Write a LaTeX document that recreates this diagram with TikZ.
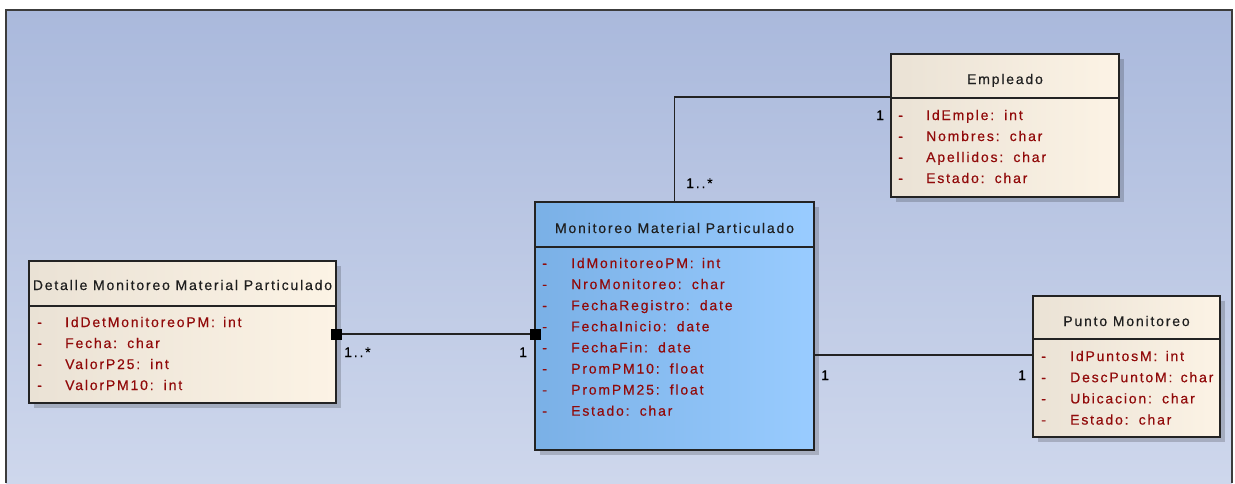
\documentclass[tikz,border=0pt]{standalone}
\usepackage{fontspec}
\setmainfont{Liberation Sans}
\newfontfamily\umlfont[LetterSpace=13,FakeBold=0.4]{Liberation Sans}
\usetikzlibrary{shadows,calc}

\definecolor{bgtop}{RGB}{170,185,220}
\definecolor{bgbot}{RGB}{206,215,236}
\definecolor{beigeL}{RGB}{234,226,213}
\definecolor{beigeR}{RGB}{252,243,229}
\definecolor{blueL}{RGB}{122,176,230}
\definecolor{blueR}{RGB}{153,204,255}
\definecolor{attrred}{RGB}{145,10,10}
\definecolor{edgec}{RGB}{35,35,35}
\definecolor{framec}{RGB}{60,60,60}

% attribute text: name, colon, wider gap, type
\newcommand{\umlattr}[2]{#1:\hspace{2.5pt} #2}

\begin{document}
\begin{tikzpicture}[x=1pt,y=-1pt,
  umlbox/.style={draw=edgec, line width=1.3pt, anchor=north west,
    inner sep=0pt, outer sep=0pt, left color=beigeL, right color=beigeR,
    drop shadow={shadow xshift=5pt, shadow yshift=-5pt, fill=black, opacity=0.18}},
  mainbox/.style={umlbox, left color=blueL, right color=blueR},
  divider/.style={draw=edgec, line width=1.1pt},
  title/.style={inner sep=0pt, text=black!88, font=\umlfont\fontsize{14}{16}\selectfont,
    text height=10pt, text depth=0pt},
  attr/.style={anchor=west, inner sep=0pt, text=attrred,
    font=\umlfont\fontsize{14}{16}\selectfont, text height=10pt, text depth=0pt},
  mult/.style={anchor=west, inner sep=0pt, text=black,
    font=\umlfont\fontsize{14}{16}\selectfont, text height=10pt, text depth=0pt},
  assoc/.style={draw=edgec, line width=1.2pt},
  endsq/.style={fill=black, minimum size=11pt, inner sep=0pt, outer sep=0pt}
]
\useasboundingbox (0,0) rectangle (1235,483);
\fill[white] (0,0) rectangle (1235,483);
% diagram canvas
\shade[top color=bgtop, bottom color=bgbot] (6,10) rectangle (1232,483);
\draw[framec, line width=1.6pt] (6,483) -- (6,10) -- (1232,10) -- (1232,483);

% ---------- classes ----------
\node[umlbox, minimum width=228pt, minimum height=143pt] (emp) at (891,54) {};
\draw[divider] ([yshift=-44pt]emp.north west) -- ([yshift=-44pt]emp.north east);
\node[title] (emp-t) at ([yshift=-25pt]emp.north) {Empleado};
\foreach \n/\ty [count=\i] in {IdEmple/int, Nombres/char, Apellidos/char, Estado/char}{
  \node[attr] (emp-d\i) at (898,{115+21*(\i-1)}) {-};
  \node[attr] (emp-a\i) at (926,{115+21*(\i-1)}) {\umlattr{\n}{\ty}};
}

\node[umlbox, minimum width=307pt, minimum height=142pt] (det) at (29,261) {};
\draw[divider] ([yshift=-45pt]det.north west) -- ([yshift=-45pt]det.north east);
\begin{scope}
  \clip (det.north west) rectangle ([yshift=-45pt]det.north east);
  \node[title] (det-t) at ([yshift=-24pt]det.north) {Detalle Monitoreo Material Particulado};
\end{scope}
\foreach \n/\ty [count=\i] in {IdDetMonitoreoPM/int, Fecha/char, ValorP25/int, ValorPM10/int}{
  \node[attr] (det-d\i) at (37,{322+21*(\i-1)}) {-};
  \node[attr] (det-a\i) at (65,{322+21*(\i-1)}) {\umlattr{\n}{\ty}};
}

\node[mainbox, minimum width=279pt, minimum height=248pt] (mon) at (535,202) {};
\draw[divider] ([yshift=-45pt]mon.north west) -- ([yshift=-45pt]mon.north east);
\node[title] (mon-t) at ([yshift=-26pt]mon.north) {Monitoreo Material Particulado};
\foreach \n/\ty [count=\i] in {IdMonitoreoPM/int, NroMonitoreo/char, FechaRegistro/date,
  FechaInicio/date, FechaFin/date, PromPM10/float, PromPM25/float, Estado/char}{
  \node[attr] (mon-d\i) at (542,{263+21.1*(\i-1)}) {-};
  \node[attr] (mon-a\i) at (571,{263+21.1*(\i-1)}) {\umlattr{\n}{\ty}};
}

\node[umlbox, minimum width=187pt, minimum height=141pt] (pun) at (1033,296) {};
\draw[divider] ([yshift=-43pt]pun.north west) -- ([yshift=-43pt]pun.north east);
\node[title] (pun-t) at ([yshift=-25pt]pun.north) {Punto Monitoreo};
\foreach \n/\ty [count=\i] in {IdPuntosM/int, DescPuntoM/char, Ubicacion/char, Estado/char}{
  \node[attr] (pun-d\i) at (1041,{356+21.2*(\i-1)}) {-};
  \node[attr] (pun-a\i) at (1070,{356+21.2*(\i-1)}) {\umlattr{\n}{\ty}};
}

% ---------- associations ----------
\coordinate (yemp) at (0,97);
\coordinate (ydet) at (0,334);
\coordinate (ypun) at (0,355);

\draw[assoc] (mon.north) |- (emp.west |- yemp);
\node[mult] (m1) at (686,183) {1..*};
\node[mult] (m2) at (876,115) {1};

\draw[assoc] (det.east |- ydet) -- (mon.west |- ydet);
\node[endsq] (sq1) at (det.east |- ydet) {};
\node[endsq] (sq2) at (mon.west |- ydet) {};
\node[mult] (m3) at (344,352) {1..*};
\node[mult] (m4) at (519,352) {1};

\draw[assoc] (mon.east |- ypun) -- (pun.west |- ypun);
\node[mult] (m5) at (821,375) {1};
\node[mult] (m6) at (1018,375) {1};
\end{tikzpicture}
\end{document}
